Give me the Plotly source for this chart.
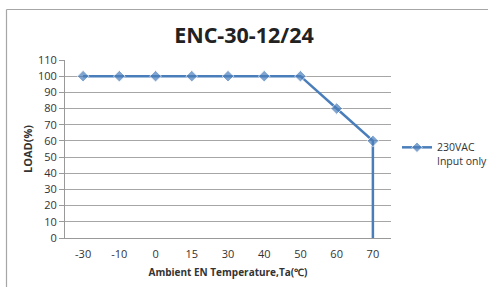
import plotly.graph_objects as go

categories = ["-30", "-10", "0", "15", "30", "40", "50", "60", "70", "70"]
load_values = [100, 100, 100, 100, 100, 100, 100, 80, 60, 0]
marker_sizes = [9, 9, 9, 9, 9, 9, 9, 9, 9, 0]
y_ticks = list(range(0, 111, 10))
x_ticks = ["-30", "-10", "0", "15", "30", "40", "50", "60", "70"]

W, H = 488, 287
L, R, T, B = 65, 97, 60, 49
pw, ph = W - L - R, H - T - B

fig = go.Figure()
fig.add_trace(go.Scatter(
    x=categories, y=load_values, mode="lines+markers",
    name="230VAC<br>Input only",
    line=dict(color="#4A7EBB", width=2.5),
    marker=dict(symbol="diamond", size=marker_sizes, color="#4A7EBB"),
))

def px_x(p):
    return (p - L) / pw

def px_y(p):
    return 1 - (p - T) / ph

fig.add_shape(type="line", xref="paper", yref="paper",
              x0=px_x(6.5), x1=px_x(490), y0=px_y(9.5), y1=px_y(9.5),
              line=dict(color="#A6A6A6", width=1.2))
fig.add_shape(type="line", xref="paper", yref="paper",
              x0=px_x(6.5), x1=px_x(6.5), y0=px_y(9.5), y1=px_y(290),
              line=dict(color="#A6A6A6", width=1.2))

fig.update_layout(
    width=W, height=H,
    margin=dict(l=L, r=R, t=T, b=B, autoexpand=False),
    paper_bgcolor="white", plot_bgcolor="white",
    font=dict(family="Open Sans", color="#333333", size=11),
    title=dict(text="<b>ENC-30-12/24</b>", x=0.5, xanchor="center",
               y=1 - 35 / H, yanchor="middle",
               font=dict(size=21.5, color="#222222", family="Open Sans")),
    showlegend=True,
    legend=dict(x=px_x(397), y=px_y(134), xanchor="left", yanchor="top",
                font=dict(size=10.5, color="#333333"), itemwidth=30,
                valign="top", bgcolor="rgba(0,0,0,0)"),
    xaxis=dict(type="category", categoryorder="array", categoryarray=x_ticks,
               range=[-0.5, 8.5], showgrid=False, showline=True,
               linecolor="#999999", linewidth=1, ticks="",
               ticklabelstandoff=6, automargin=False,
               title=dict(text="<b>Ambient EN Temperature,Ta(℃)</b>",
                          font=dict(size=10, color="#333333"), standoff=8)),
    yaxis=dict(range=[0, 110], tickvals=y_ticks, showgrid=True,
               gridcolor="#A6A6A6", gridwidth=1, showline=True,
               linecolor="#999999", linewidth=1, ticks="outside",
               ticklen=5, tickcolor="#999999", zeroline=False,
               automargin=False,
               title=dict(text="<b>LOAD(%)</b>",
                          font=dict(size=11, color="#333333"), standoff=3)),
)

fig.write_html("out.html", config={"displayModeBar": False},
               post_script="document.body.style.margin='0';")
